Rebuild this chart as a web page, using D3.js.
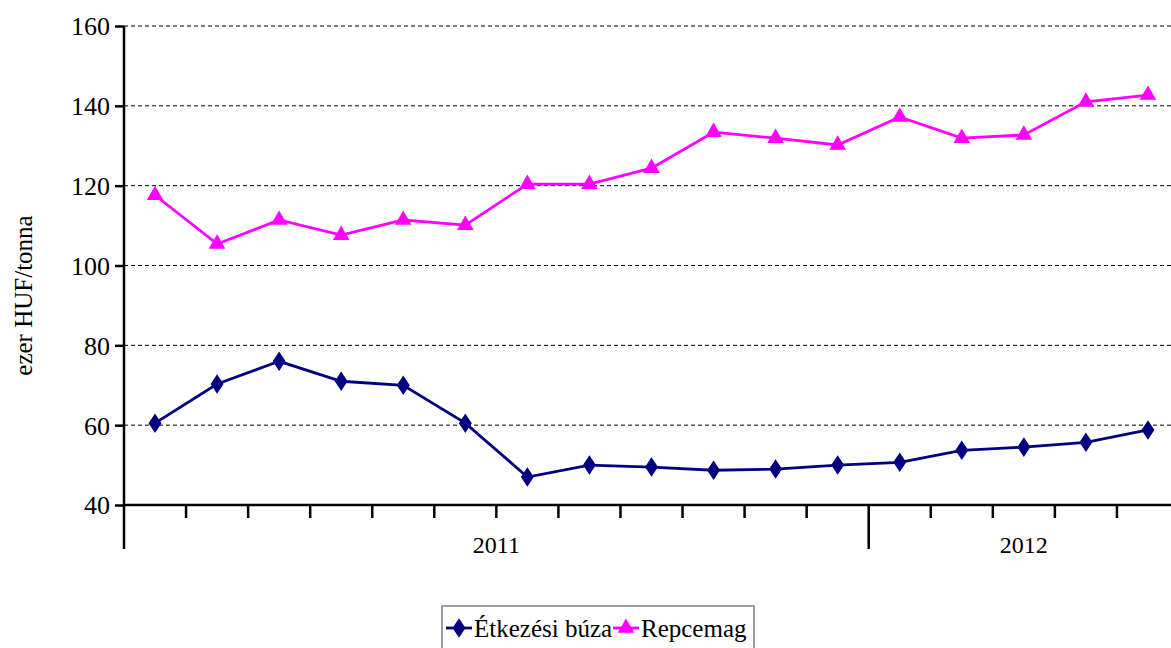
<!DOCTYPE html>
<html>
<head>
<meta charset="utf-8">
<script src="https://cdn.jsdelivr.net/npm/d3@7"></script>
<style>
  body { margin: 0; background: #fff; }
</style>
</head>
<body>
<div id="chart"></div>
<script>
// months shown on the x axis (no label per month, only the year groups)
var months = ["2011-01","2011-02","2011-03","2011-04","2011-05","2011-06",
              "2011-07","2011-08","2011-09","2011-10","2011-11","2011-12",
              "2012-01","2012-02","2012-03","2012-04","2012-05"];
var years = ["2011", "2012"];

var buza = [60.5, 70.3, 76, 71, 70, 60.5, 47, 50, 49.5, 48.7, 49, 50, 50.7, 53.7, 54.5, 55.7, 58.8];
var repce = [117.6, 105.4, 111.4, 107.6, 111.4, 110.1, 120.4, 120.4, 124.4, 133.4, 131.9, 130.2, 137.2, 131.9, 132.7, 141, 142.7];
var seriesNames = ["Étkezési búza", "Repcemag"];
var yTicks = [40, 60, 80, 100, 120, 140, 160];

var FONT = "Liberation Serif";

var svgWidth = 1171;
var svgHeight = 648;
var margin = { top: 26, left: 124, right: -8, bottom: 143 };
var chartWidth = svgWidth - margin.left - margin.right;
var chartHeight = svgHeight - margin.top - margin.bottom;

var svg = d3.select("#chart").append("svg")
    .attr("width", svgWidth)
    .attr("height", svgHeight)
    .attr("font-family", FONT)
    .style("display", "block");

var chart = svg.append("g").attr("transform", `translate(${margin.left},${margin.top})`);

var xScale = d3.scaleBand().domain(months).range([0, chartWidth]);
var yScale = d3.scaleLinear().domain([40, 160]).range([chartHeight, 0]);

// gridlines
chart.selectAll(".grid")
    .data(yTicks.filter(function(d) { return d > 40; }))
    .enter()
    .append("line")
    .attr("x1", 0)
    .attr("x2", chartWidth)
    .attr("y1", function(d) { return yScale(d); })
    .attr("y2", function(d) { return yScale(d); })
    .attr("stroke", "#000")
    .attr("stroke-width", 1)
    .attr("stroke-dasharray", "4,3");

// y axis
var leftAxis = d3.axisLeft(yScale).tickValues(yTicks).tickSize(9).tickPadding(5);
var yAxis = chart.append("g").call(leftAxis)
    .attr("font-family", FONT)
    .attr("font-size", 26);
yAxis.select(".domain").attr("stroke-width", 2.5).attr("d", `M0,0V${chartHeight + 44}`);
yAxis.selectAll(".tick line").attr("stroke-width", 2.5);
yAxis.selectAll(".tick text").attr("dy", "0.34em");

// x axis
var bottomAxis = d3.axisBottom(xScale).tickSize(0).tickFormat("");
var xAxis = chart.append("g").attr("transform", `translate(0,${chartHeight})`).call(bottomAxis);
xAxis.select(".domain").attr("stroke-width", 2.5).attr("d", `M0,0H${chartWidth}`);

// month separators
var bw = xScale.bandwidth();
chart.selectAll(".mtick")
    .data(months.slice(1))
    .enter()
    .append("line")
    .attr("x1", function(d) { return xScale(d); })
    .attr("x2", function(d) { return xScale(d); })
    .attr("y1", chartHeight)
    .attr("y2", function(d) { return d === "2012-01" ? chartHeight + 44 : chartHeight + 13; })
    .attr("stroke", "#000")
    .attr("stroke-width", 2.5);

// year labels
chart.selectAll(".year")
    .data(years)
    .enter()
    .append("text")
    .attr("x", function(y) {
        var ms = months.filter(function(m) { return m.slice(0, 4) === y; });
        return (xScale(ms[0]) + xScale(ms[ms.length - 1]) + bw) / 2;
    })
    .attr("y", chartHeight + 48)
    .attr("text-anchor", "middle")
    .attr("font-family", FONT)
    .attr("font-size", 24)
    .text(function(d) { return d; });

// y label
chart.append("text")
    .attr("transform", "rotate(-90)")
    .attr("x", -(yScale(100) + 30))
    .attr("y", -92)
    .attr("text-anchor", "middle")
    .attr("font-family", FONT)
    .attr("font-size", 25)
    .text("ezer HUF/tonna");

var line = d3.line()
    .x(function(d, i) { return xScale(months[i]) + bw / 2; })
    .y(function(d) { return yScale(d); });

var diamond = d3.symbol().type(d3.symbolDiamond).size(110);
var triangle = d3.symbol().type(d3.symbolTriangle).size(120);

// Étkezési búza
chart.append("path").datum(buza)
    .attr("d", line)
    .attr("fill", "none")
    .attr("stroke", "#000080")
    .attr("stroke-width", 2.8);
chart.selectAll(".pb")
    .data(buza)
    .enter()
    .append("path")
    .attr("d", diamond)
    .attr("transform", function(d, i) { return `translate(${xScale(months[i]) + bw / 2},${yScale(d)}) scale(1.15,1)`; })
    .attr("fill", "#000080");

// Repcemag
chart.append("path").datum(repce)
    .attr("d", line)
    .attr("fill", "none")
    .attr("stroke", "#FF00FF")
    .attr("stroke-width", 2.8);
chart.selectAll(".pr")
    .data(repce)
    .enter()
    .append("path")
    .attr("d", triangle)
    .attr("transform", function(d, i) { return `translate(${xScale(months[i]) + bw / 2},${yScale(d)})`; })
    .attr("fill", "#FF00FF");

// legend
var legend = svg.append("g").attr("transform", "translate(442,606)");
legend.append("rect")
    .attr("x", 0).attr("y", 0)
    .attr("width", 312).attr("height", 50)
    .attr("fill", "none")
    .attr("stroke", "#808080")
    .attr("stroke-width", 1.5);

var lx = [4, 171];
var lcol = ["#000080", "#FF00FF"];
seriesNames.forEach(function(name, i) {
    var g = legend.append("g").attr("transform", `translate(${lx[i]},22)`);
    g.append("line").attr("x1", 0).attr("x2", 26).attr("y1", 0).attr("y2", 0)
        .attr("stroke", lcol[i]).attr("stroke-width", 2.8);
    g.append("path")
        .attr("d", i === 0 ? diamond : triangle)
        .attr("transform", i === 0 ? "translate(13,0) scale(1.15,1)" : "translate(13,0)")
        .attr("fill", lcol[i]);
    g.append("text")
        .attr("x", 28).attr("y", 9)
        .attr("font-family", FONT)
        .attr("font-size", 25)
        .text(name);
});
</script>
</body>
</html>
